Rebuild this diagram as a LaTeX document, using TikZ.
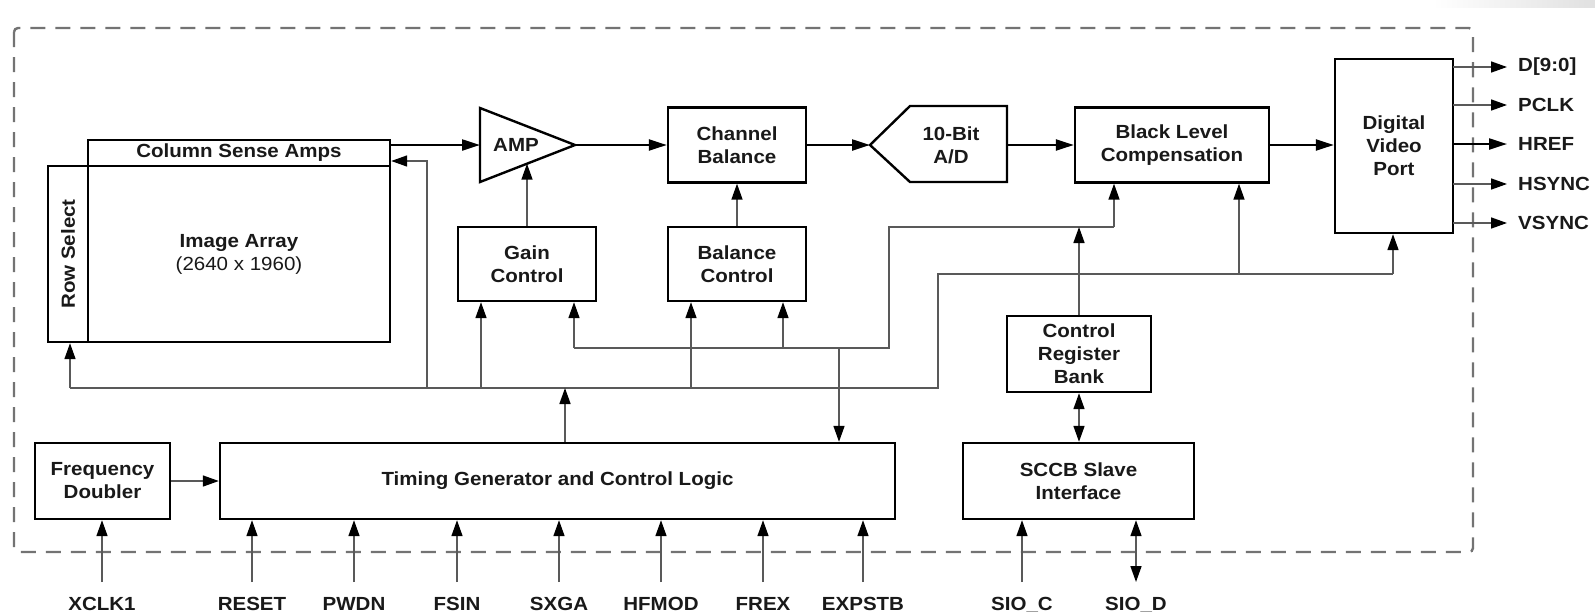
\documentclass[tikz,border=0pt]{standalone}
\usepackage{fontspec}
\newfontfamily\diafont{Liberation Sans}[FakeStretch=1.08]
\usetikzlibrary{arrows.meta}
\begin{document}
\begin{tikzpicture}[x=1pt,y=-1pt,
  lbl/.style={font=\diafont\bfseries\fontsize{19}{23}\selectfont, align=center, text=black!90},
  blk/.style={lbl, draw=black, line width=2.4pt, fill=white, inner sep=0pt},
  shapeline/.style={draw=black, line width=2.4pt, line join=miter},
  bigtip/.tip={Triangle[length=18pt,width=11pt,color=black]},
  smalltip/.tip={Triangle[length=16pt,width=11pt,color=black]},
  main/.style={draw=black, line width=2.2pt, -bigtip},
  wire/.style={draw=black!65, line width=1.6pt},
  ctl/.style={wire, -smalltip},
  ctlboth/.style={wire, smalltip-smalltip},
  sig/.style={lbl, anchor=base, inner sep=0pt},
  outlbl/.style={lbl, anchor=west, inner sep=0pt},
  border/.style={draw=black!55, line width=2.4pt, dash pattern=on 15pt off 10pt, rounded corners=4pt}]

\useasboundingbox (0,0) rectangle (1595,611);
\shade[left color=white, right color=black!12] (1433,0) rectangle (1595,7);

% chip outline
\draw[border] (14,28) rectangle (1473,552);

% ---------- sensor ----------
\node[blk, minimum width=302, minimum height=26] (colsense) at (239,153) {Column Sense Amps};
\node[blk, minimum width=40, minimum height=176] (rowsel) at (68,254) {};
\node[lbl, rotate=90] (rowseltxt) at (rowsel) {Row Select};
\node[blk, minimum width=302, minimum height=176] (imgarr) at (239,254)
  {Image Array\\\mdseries(2640 x 1960)};

% ---------- amplifier (triangle) ----------
\coordinate (ampL) at (480,145);
\coordinate (ampT) at (575,145);
\coordinate (ampGain) at (527,163.7);
\draw[shapeline, fill=white] (480,108) -- (ampT) -- (480,182) -- cycle;
\node[lbl] (amp) at (516,145) {AMP};

% ---------- analog chain ----------
\node[blk, minimum width=138, minimum height=75] (cb) at (737,145) {Channel\\Balance};
\node[blk, minimum width=138, minimum height=74] (gain) at (527,264) {Gain\\Control};
\node[blk, minimum width=138, minimum height=74] (bal) at (737,264) {Balance\\Control};

% A/D converter (signal shape)
\coordinate (adTip) at (870,145);
\coordinate (adR) at (1007,145);
\draw[shapeline, fill=white] (adTip) -- (910,106) -- (1007,106) -- (1007,182) -- (910,182) -- cycle;
\node[lbl] (ad) at (951,145) {10-Bit\\A/D};

\node[blk, minimum width=194, minimum height=75] (bl) at (1172,145) {Black Level\\Compensation};
\node[blk, minimum width=118, minimum height=174] (dvp) at (1394,146) {Digital\\Video\\Port};

% ---------- control blocks ----------
\node[blk, minimum width=144, minimum height=76] (crb) at (1079,354) {Control\\Register\\Bank};
\node[blk, minimum width=135, minimum height=76] (fd) at (102.5,481) {Frequency\\Doubler};
\node[blk, minimum width=675, minimum height=76] (tg) at (557.5,481) {Timing Generator and Control Logic};
\node[blk, minimum width=231, minimum height=76] (sccb) at (1078.5,481) {SCCB Slave\\Interface};

% ---------- data path ----------
\draw[main] (colsense.east |- ampL) -- (ampL);
\draw[main] (ampT) -- (cb.west |- ampT);
\draw[main] (cb.east |- adTip) -- (adTip);
\draw[main] (adR) -- (bl.west |- adR);
\draw[main] (bl.east |- adR) -- (dvp.west |- adR);

% ---------- video outputs ----------
\foreach \nm/\yy/\sty in {oD/67/ctl, oP/105/ctl, oH/144/main, oHS/184/ctl, oVS/223/ctl}{
  \coordinate (\nm-s) at (1453,\yy);
  \draw[\sty] (\nm-s) -- ++(54,0) coordinate (\nm-e);
}
\node[outlbl] (lD)  at ([xshift=11pt]oD-e)  {D[9:0]};
\node[outlbl] (lP)  at ([xshift=11pt]oP-e)  {PCLK};
\node[outlbl] (lH)  at ([xshift=11pt]oH-e)  {HREF};
\node[outlbl] (lHS) at ([xshift=11pt]oHS-e) {HSYNC};
\node[outlbl] (lVS) at ([xshift=11pt]oVS-e) {VSYNC};

% ---------- local controls ----------
\draw[ctl] (gain.north) -- (ampGain);
\draw[ctl] (bal.north) -- (cb.south);

% ---------- timing bus ----------
\coordinate (busL) at (70,388);
\coordinate (busR) at (938,388);
\coordinate (busU) at (938,274);
\coordinate (busE) at (1393,274);
\coordinate (fbB) at (427,388);
\coordinate (fbT) at (427,161);
\coordinate (gB) at (481,388);
\coordinate (bB) at (691,388);
\coordinate (blB) at (1239,274);
\coordinate (tgUp) at (565,388);
\draw[wire] (busL) -- (busR) -- (busU) -- (busE);
\draw[ctl] (busE) -- (busE |- dvp.south);
\draw[ctl] (busL) -- (busL |- rowsel.south);
\draw[ctl] (fbB) -- (fbT) -- (fbT -| colsense.east);
\draw[ctl] (gB) -- (gB |- gain.south);
\draw[ctl] (bB) -- (bB |- bal.south);
\draw[ctl] (blB) -- (blB |- bl.south);
\draw[ctl] (tgUp |- tg.north) -- (tgUp);

% ---------- second control net ----------
\coordinate (n1) at (574,348);
\coordinate (n2) at (889,348);
\coordinate (n3) at (889,227);
\coordinate (n4) at (1114,227);
\coordinate (nb) at (783,348);
\coordinate (nt) at (839,348);
\draw[wire] (n1) -- (n2) -- (n3) -- (n4);
\draw[ctl] (n1) -- (n1 |- gain.south);
\draw[ctl] (nb) -- (nb |- bal.south);
\draw[ctl] (n4) -- (n4 |- bl.south);
\draw[ctl] (nt) -- (nt |- tg.north);

% register bank and serial interface
\draw[ctl] (crb.north) -- (crb.north |- n4);
\draw[ctlboth] (crb.south) -- (crb.south |- sccb.north);
\draw[ctl] (fd.east) -- (tg.west);

% ---------- external inputs ----------
\foreach \key/\x/\tgt/\txt in {xclk/102/fd/XCLK1, reset/252/tg/RESET, pwdn/354/tg/PWDN,
    fsin/457/tg/FSIN, sxga/559/tg/SXGA, hfmod/661/tg/HFMOD, frex/763/tg/FREX,
    expstb/863/tg/EXPSTB, sioc/1022/sccb/SIO\_C}{
  \node[sig] (in-\key) at (\x,610) {\txt};
  \draw[ctl] (\x,582) -- (\x,0 |- \tgt.south);
}
\node[sig] (in-siod) at (1136,610) {SIO\_D};
\draw[ctlboth] (1136,582) -- (1136,0 |- sccb.south);

\end{tikzpicture}
\end{document}
